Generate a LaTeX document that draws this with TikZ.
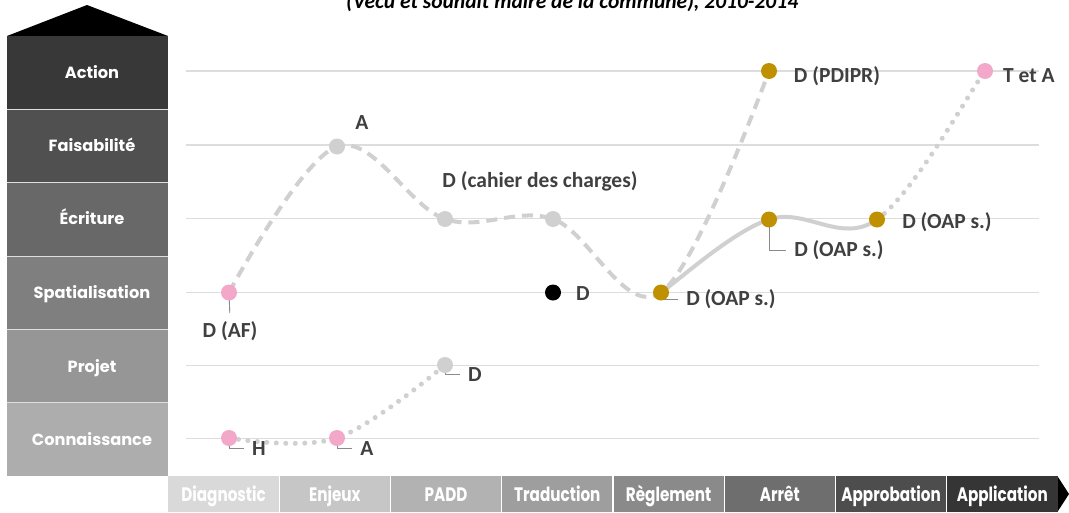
\documentclass[tikz,border=0pt]{standalone}
\usepackage{fontspec}
\setmainfont{Carlito}
\newfontfamily\gothic{Poppins}
\newfontfamily\gothicnarrow{Poppins}[FakeStretch=0.78]
\pgfdeclarelayer{bg}
\pgfdeclarelayer{back}
\pgfsetlayers{back,bg,main}
\definecolor{lblc}{HTML}{404040}
\definecolor{gridc}{HTML}{DDDDDD}
\definecolor{curvec}{HTML}{D0D0D0}
\definecolor{pinkc}{HTML}{F3A7C9}
\definecolor{goldc}{HTML}{BF9000}
\definecolor{leadc}{HTML}{8A8A8A}
\begin{document}
\begin{tikzpicture}[x=1pt,y=-1pt,
  dot/.style={circle,inner sep=0pt,minimum size=16pt,draw=none},
  pinkdot/.style={dot,fill=pinkc},
  golddot/.style={dot,fill=goldc},
  greydot/.style={dot,fill=curvec},
  blackdot/.style={dot,fill=black},
  lbl/.style={text=lblc,font=\fontsize{21.5}{24}\selectfont\bfseries,inner sep=2pt},
  lvltxt/.style={text=white,font=\gothic\fontsize{16.2}{18}\selectfont\bfseries,inner sep=0pt,anchor=base},
  bartxt/.style={text=white,font=\gothicnarrow\fontsize{19.5}{21}\selectfont\bfseries,inner sep=0pt,anchor=base},
  gridline/.style={draw=gridc,line width=1.2pt},
  dashcurve/.style={draw=curvec,line width=4pt,dash pattern=on 11pt off 7pt},
  solidcurve/.style={draw=curvec,line width=4pt},
  dotcurve/.style={draw=curvec,line width=5pt,line cap=round,dash pattern=on 0.01pt off 9.5pt},
  leader/.style={draw=leadc,line width=0.9pt}]
\useasboundingbox (0,0) rectangle (1069,512);
\begin{pgfonlayer}{back}
\fill[white] (0,0) rectangle (1069,512);
\end{pgfonlayer}

% title (cut at top)
\node[anchor=base west,inner sep=0pt,text=black,font=\fontsize{21.5}{24}\selectfont\bfseries\itshape] (title) at (346,8.5) {(Vécu et souhait maire de la commune), 2010-2014};

% left column
\fill[black] (7,36) -- (87,5) -- (168,36) -- cycle;
\foreach \i/\c in {0/383838,1/505050,2/686868,3/7F7F7F,4/969696,5/ADADAD}{
  \definecolor{tmpc}{HTML}{\c}
  \fill[tmpc] (7,36+73.33*\i) rectangle (168,36+73.33*\i+73.33);
}
\foreach \i in {1,...,5}{
  \draw[white!75!gray,line width=0.8pt] (7,36+73.33*\i) -- (168,36+73.33*\i);
}
\node[lvltxt] (l1) at (92,78) {Action};
\node[lvltxt] (l2) at (92,151.5) {Faisabilité};
\node[lvltxt] (l3) at (92,224.5) {Écriture};
\node[lvltxt] (l4) at (92,298) {Spatialisation};
\node[lvltxt] (l5) at (92,372) {Projet};
\node[lvltxt] (l6) at (92,445) {Connaissance};

% bottom bar
\foreach \i/\c/\t in {0/D9D9D9/Diagnostic,1/C6C6C6/Enjeux,2/B2B2B2/PADD,3/9E9E9E/Traduction,4/8A8A8A/Règlement,5/6E6E6E/Arrêt,6/4D4D4D/Approbation,7/353535/Application}{
  \definecolor{tmpc}{HTML}{\c}
  \fill[tmpc] (168+111.25*\i,476) rectangle (168+111.25*\i+111.25,512);
  \node[bartxt] (b\i) at (168+111.25*\i+55.6,501) {\t};
}
\foreach \i in {1,...,7}{
  \draw[white,line width=1.2pt] (168+111.25*\i,476) -- (168+111.25*\i,512);
}
\fill[black] (1058,477) -- (1069,494) -- (1058,511) -- cycle;

% grid lines
\begin{pgfonlayer}{bg}
\foreach \y in {71,145,218.5,292.5,365.5,438.5}{
  \draw[gridline] (186,\y) -- (1039,\y);
}
\end{pgfonlayer}

% points
\node[pinkdot] (dAF) at (229,292.5) {};
\node[greydot] (Ag) at (337,146.5) {};
\node[greydot] (Dc1) at (445,219) {};
\node[greydot] (Dc2) at (553,219) {};
\node[blackdot] (Db) at (553,292.5) {};
\node[golddot] (O1) at (661,292.5) {};
\node[golddot] (PD) at (769,71) {};
\node[golddot] (O2) at (769,219.5) {};
\node[golddot] (O3) at (877,219.5) {};
\node[pinkdot] (TA) at (985,71) {};
\node[pinkdot] (H) at (229,438) {};
\node[pinkdot] (Ap) at (337,438) {};
\node[greydot] (Dg) at (445,365) {};

% curves
\begin{pgfonlayer}{bg}
\draw[dashcurve] plot[smooth,tension=0.6] coordinates {(dAF.center) (Ag.center) (Dc1.center) (Dc2.center) (O1.center) (PD.center)};
\draw[solidcurve] (O1.center) .. controls (679,280) and (733,231) .. (O2.center) .. controls (805,207) and (841,245) .. (O3.center);
\draw[dotcurve] (O3.center) .. controls (913,194) and (967,96) .. (TA.center);
\draw[dotcurve] plot[smooth,tension=0.6] coordinates {(H.center) (Ap.center) (Dg.center)};
\end{pgfonlayer}

% labels
\node[lbl] (tAF) at (230,331) {D (AF)};
\node[lbl] (tH) at (259,448.5) {H};
\node[lbl] (tAp) at (367,448.5) {A};
\node[lbl] (tDg) at (475,374.5) {D};
\node[lbl] (tAg) at (362,123) {A};
\node[lbl] (tDc) at (540,181) {D (cahier des charges)};
\node[lbl] (tDb) at (583,294) {D};
\node[lbl] (tO1) at (731,299.5) {D (OAP s.)};
\node[lbl] (tO2) at (839,250) {D (OAP s.)};
\node[lbl] (tO3) at (947,222) {D (OAP s.)};
\node[lbl] (tPD) at (837,76) {D (PDIPR)};
\node[lbl] (tTA) at (1029,76) {T et A};

% leader lines
\begin{pgfonlayer}{bg}
\draw[leader,shorten >=6pt] (dAF.center) -- (tAF.north);
\draw[leader,shorten >=6pt] (H.center) |- (tH.west);
\draw[leader,shorten >=6pt] (Ap.center) |- (tAp.west);
\draw[leader,shorten >=6pt] (Dg.center) |- (tDg.west);
\draw[leader,shorten >=6pt] (O1.center) |- (tO1.west);
\draw[leader,shorten >=6pt] (O2.center) |- (tO2.west);
\end{pgfonlayer}
\end{tikzpicture}
\end{document}
